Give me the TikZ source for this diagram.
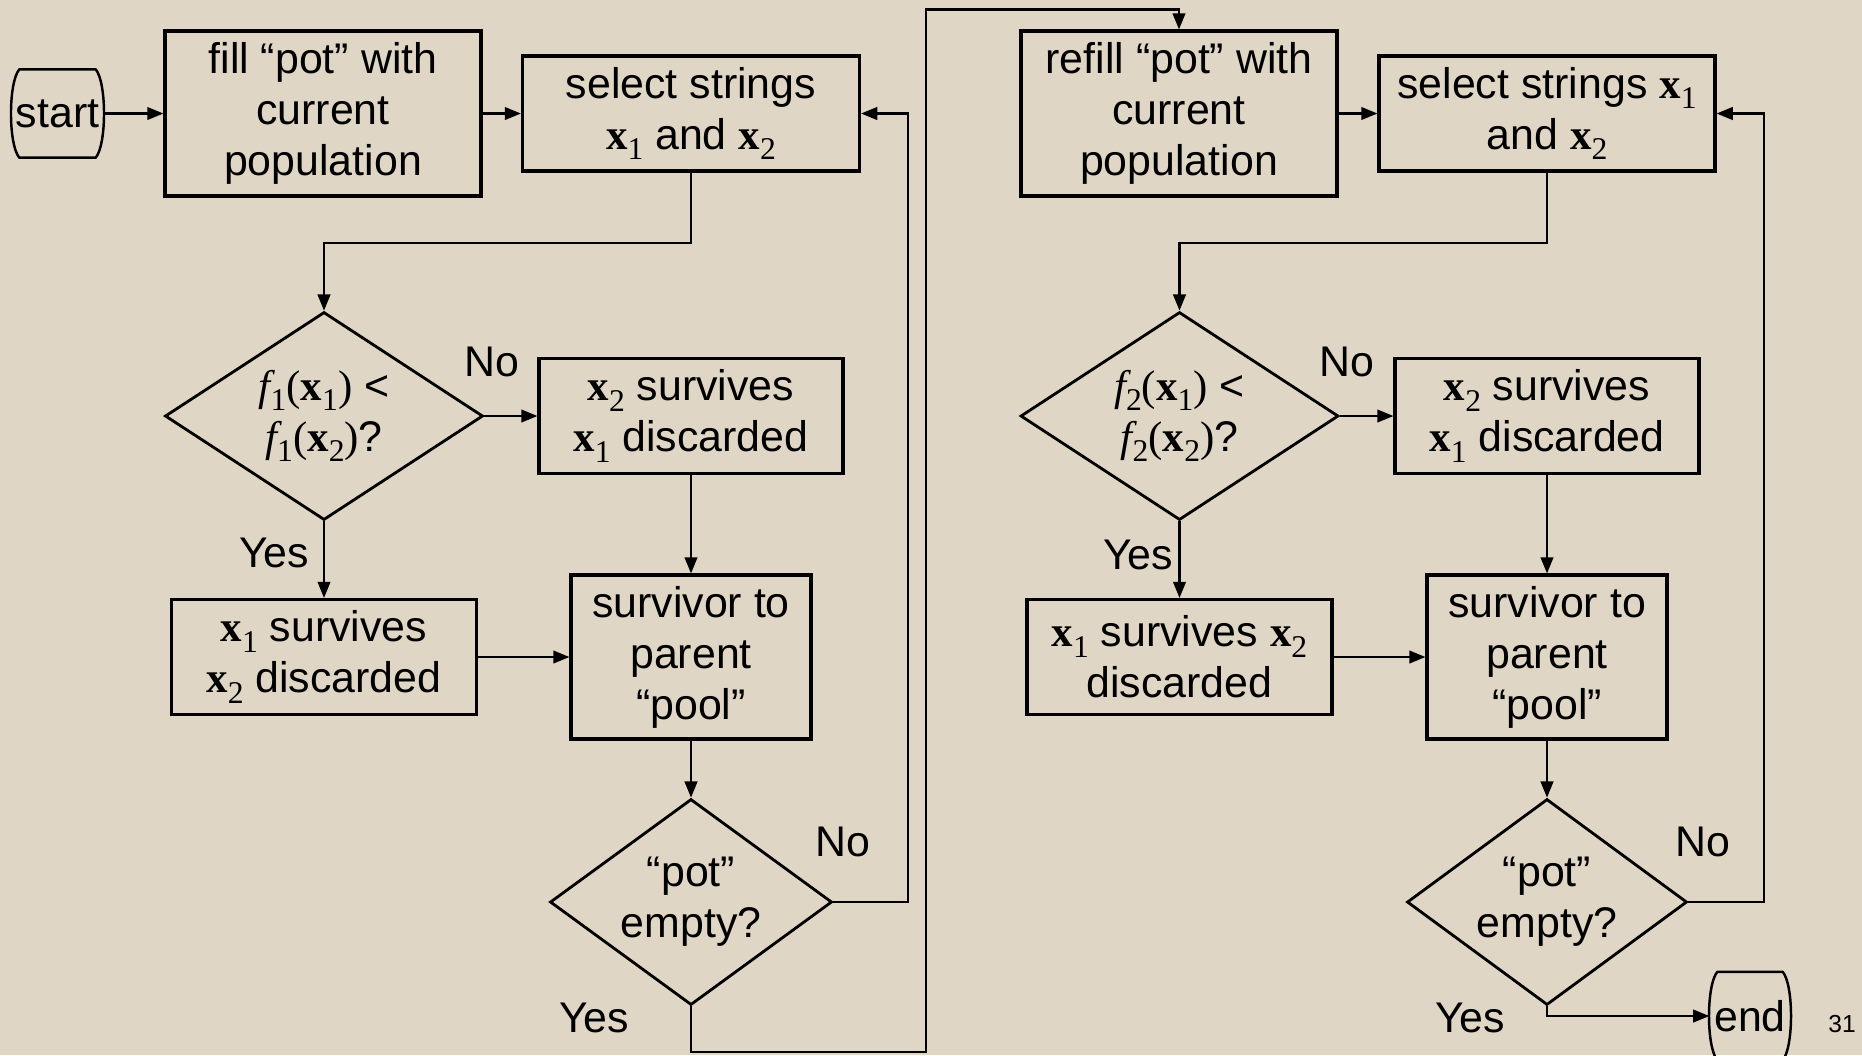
\documentclass[tikz,border=0pt]{standalone}
\usepackage{fontspec}
\setmainfont{Liberation Sans}
\newfontfamily\tms{Liberation Serif}
\usetikzlibrary{shapes.geometric,arrows.meta}
\definecolor{slidebg}{RGB}{224,214,197}
\newcommand{\vx}[1]{{\tms\bfseries x}\raisebox{-0.45ex}{\tms\fontsize{9}{9}\selectfont #1}}
\newcommand{\fobj}[1]{{\tms\itshape f}\raisebox{-0.45ex}{\tms\fontsize{9}{9}\selectfont #1}}
\newcommand{\opar}{{\tms(}}
\newcommand{\cpar}{{\tms)}}
\newcommand{\flowfont}{\fontsize{12.2}{14.5}\selectfont}
\tikzset{
  procbox/.style={draw=black, line width=0.9pt, rectangle, align=center, inner sep=0pt, font=\flowfont},
  decision/.style={draw=black, line width=0.8pt, diamond, aspect=1.53, align=center, inner sep=0pt, font=\flowfont},
  terminal/.style={rectangle, inner sep=0pt, minimum height=0.87cm, font=\flowfont},
  termline/.style={line width=0.7pt, draw=black, line join=round, looseness=0.5},
  flowline/.style={line width=0.6pt, draw=black, -{Triangle[length=4.6pt,width=3.6pt]}},
  branchlabel/.style={font=\flowfont, inner sep=0pt},
  pagenum/.style={font=\fontsize{7}{8}\selectfont, inner sep=0pt},
}
\begin{document}
\begin{tikzpicture}
\useasboundingbox (0,0) rectangle (18.62,-10.55);
\fill[slidebg] (0,0) rectangle (18.62,-10.55);
% first pass: objective f1
\node[terminal, minimum width=0.75cm] (start) at (0.575,-1.135) {\makebox[0.75cm]{start}};
\node[procbox, minimum width=3.16cm, minimum height=1.65cm] (fill) at (3.23,-1.135) {fill “pot” with\\current\\population};
\node[procbox, minimum width=3.37cm, minimum height=1.15cm] (select1) at (6.91,-1.135) {select strings\\\vx1 and \vx2};
\node[decision, minimum width=3.18cm, minimum height=2.08cm] (dec1) at (3.24,-4.16) {\fobj1\opar\vx1\cpar{} <\\\fobj1\opar\vx2\cpar?};
\node[procbox, minimum width=3.04cm, minimum height=1.15cm] (x2s1) at (6.91,-4.16) {\vx2 survives\\\vx1 discarded};
\node[procbox, minimum width=3.05cm, minimum height=1.15cm] (x1s1) at (3.24,-6.57) {\vx1 survives\\\vx2 discarded};
\node[procbox, minimum width=2.40cm, minimum height=1.64cm] (surv1) at (6.91,-6.57) {survivor to\\parent\\“pool”};
\node[decision, minimum width=2.82cm, minimum height=2.06cm] (pot1) at (6.91,-9.02) {“pot”\\empty?};
% second pass: objective f2
\node[procbox, minimum width=3.16cm, minimum height=1.65cm] (refill) at (11.79,-1.135) {refill “pot” with\\current\\population};
\node[procbox, minimum width=3.36cm, minimum height=1.15cm] (select2) at (15.47,-1.135) {select strings \vx1\\and \vx2};
\node[decision, minimum width=3.18cm, minimum height=2.08cm] (dec2) at (11.795,-4.16) {\fobj2\opar\vx1\cpar{} <\\\fobj2\opar\vx2\cpar?};
\node[procbox, minimum width=3.04cm, minimum height=1.15cm] (x2s2) at (15.47,-4.16) {\vx2 survives\\\vx1 discarded};
\node[procbox, minimum width=3.05cm, minimum height=1.15cm] (x1s2) at (11.795,-6.57) {\vx1 survives \vx2\\discarded};
\node[procbox, minimum width=2.40cm, minimum height=1.64cm] (surv2) at (15.47,-6.57) {survivor to\\parent\\“pool”};
\node[decision, minimum width=2.80cm, minimum height=2.06cm] (pot2) at (15.47,-9.02) {“pot”\\empty?};
\node[terminal, minimum width=0.64cm] (end) at (17.50,-10.16) {\makebox[0.64cm]{end}};
\coordinate (jump) at (9.26,-0.095);
% terminal outlines
\draw[termline] (start.north west) to[out=230,in=130] (start.south west) -- (start.south east) to[out=50,in=-50] (start.north east) -- cycle;
\draw[termline] (end.north west) to[out=230,in=130] (end.south west) -- (end.south east) to[out=50,in=-50] (end.north east) -- cycle;
% connectors
\draw[flowline] ([xshift=0.08cm]start.east) -- (fill);
\draw[flowline] (fill) -- (select1);
\draw[flowline] (select1.south) -- ++(0,-0.70) -| (dec1.north);
\draw[flowline] (dec1.east) -- (x2s1.west);
\draw[flowline] (dec1.south) -- (x1s1.north);
\draw[flowline] (x2s1.south) -- (surv1.north);
\draw[flowline] (x1s1.east) -- (surv1.west);
\draw[flowline] (surv1.south) -- (pot1.north);
\draw[flowline] (pot1.east) -- ++(0.75,0) |- (select1.east);
\draw[flowline] (pot1.south) -- ++(0,-0.46) -| (jump) -| (refill.north);
\draw[flowline] (refill) -- (select2);
\draw[flowline] (select2.south) -- ++(0,-0.70) -| (dec2.north);
\draw[flowline] (dec2.east) -- (x2s2.west);
\draw[flowline] (dec2.south) -- (x1s2.north);
\draw[flowline] (x2s2.south) -- (surv2.north);
\draw[flowline] (x1s2.east) -- (surv2.west);
\draw[flowline] (surv2.south) -- (pot2.north);
\draw[flowline] (pot2.east) -- ++(0.76,0) |- (select2.east);
\draw[flowline] (pot2.south) |- ([xshift=-0.08cm]end.west);
% branch labels
\node[branchlabel] (no1) at (4.92,-3.62) {No};
\node[branchlabel] (yes1) at (2.74,-5.53) {Yes};
\node[branchlabel] (no2) at (8.43,-8.42) {No};
\node[branchlabel] (yes2) at (5.94,-10.18) {Yes};
\node[branchlabel] (no3) at (13.47,-3.62) {No};
\node[branchlabel] (yes3) at (11.38,-5.55) {Yes};
\node[branchlabel] (no4) at (17.03,-8.42) {No};
\node[branchlabel] (yes4) at (14.70,-10.18) {Yes};
\node[pagenum] (page) at (18.42,-10.24) {31};
\end{tikzpicture}
\end{document}
